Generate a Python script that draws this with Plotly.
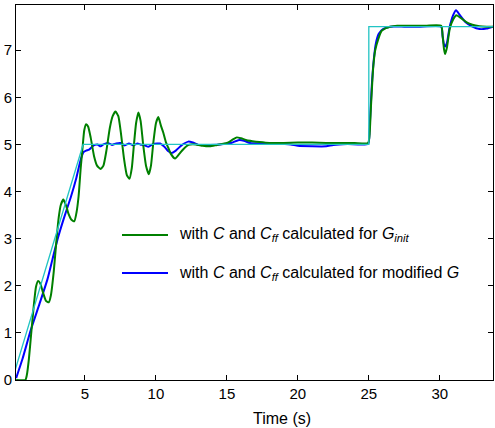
import plotly.graph_objects as go

# reference signal
ref_t = [0.0, 4.87, 25.0, 25.0, 34.0]
ref_y = [0.13, 5.0, 5.0, 7.5, 7.5]

# response with C and Cff calculated for G_init (green)
green_t = [0.15, 0.8, 0.9, 1.05, 1.2, 1.4, 1.55, 1.7, 1.85, 2.05, 2.25, 2.45, 2.6, 2.8, 3.0, 3.15, 3.3, 3.48,
           3.65, 3.85, 4.05, 4.25, 4.4, 4.55, 4.7, 4.82, 4.95, 5.08, 5.22, 5.4, 5.64, 5.85, 6.1, 6.3, 6.5, 6.75,
           6.95, 7.15, 7.35, 7.55, 7.75, 7.95, 8.13, 8.3, 8.45, 8.6, 8.76, 8.92, 9.1, 9.3, 9.5, 9.65, 9.82, 10.0,
           10.17, 10.35, 10.52, 10.7, 10.87, 11.05, 11.35, 11.65, 11.93, 12.3, 12.8, 13.3, 13.8, 14.3, 15.0, 15.4,
           15.7, 16.0, 16.4, 16.8, 17.3, 18.0, 19.0, 20.0, 21.0, 22.0, 23.0, 24.0, 24.95, 25.05, 25.15, 25.3,
           25.45, 25.66, 25.9, 26.2, 26.5, 27.0, 28.0, 29.0, 30.1, 30.2, 30.3, 30.38, 30.5, 30.7, 30.95, 31.18,
           31.5, 31.9, 32.3, 32.8, 33.3, 33.75]
green_y = [0.0, 0.0, 0.1, 0.45, 0.95, 1.6, 1.98, 2.1, 2.05, 1.85, 1.68, 1.65, 1.8, 2.3, 3.0, 3.45, 3.72, 3.83,
           3.72, 3.52, 3.4, 3.37, 3.55, 3.9, 4.5, 4.9, 5.3, 5.43, 5.38, 5.15, 4.75, 4.55, 4.48, 4.55, 4.85, 5.35,
           5.6, 5.7, 5.6, 5.2, 4.7, 4.35, 4.27, 4.5, 5.0, 5.45, 5.68, 5.5, 5.0, 4.55, 4.37, 4.55, 5.05, 5.45,
           5.58, 5.4, 5.25, 5.05, 4.93, 4.8, 4.7, 4.8, 4.9, 4.99, 5.0, 4.97, 4.96, 4.99, 5.03, 5.1,
           5.15, 5.13, 5.09, 5.07, 5.05, 5.03, 5.03, 5.04, 5.04, 5.03, 5.03, 5.03, 5.03, 5.2, 5.8, 6.6,
           7.0, 7.23, 7.41, 7.47, 7.5, 7.52, 7.52, 7.52, 7.52, 7.3, 7.02, 6.92, 7.05, 7.45, 7.66, 7.74,
           7.68, 7.59, 7.54, 7.51, 7.5, 7.5]

# response with C and Cff calculated for modified G (blue)
blue_t = [0.15, 0.6, 1.18, 1.8, 2.35, 2.7, 3.06, 3.5, 4.0, 4.4, 4.7, 4.9, 5.08, 5.29, 5.5, 5.7, 5.88, 6.1, 6.3,
          6.6, 6.9, 7.2, 7.5, 7.8, 8.1, 8.4, 8.7, 8.9, 9.2, 9.47, 9.8, 10.1, 10.3, 10.6, 10.85, 11.1, 11.4, 11.8,
          12.28, 12.6, 13.0, 13.5, 14.5, 15.3, 15.8, 16.2, 16.63, 17.5, 18.5, 19.5, 20.0, 21.0, 22.0, 22.5, 23.5,
          24.95, 25.05, 25.2, 25.35, 25.5, 25.7, 26.0, 26.5, 27.5, 28.5, 30.1, 30.2, 30.3, 30.38, 30.5, 30.7,
          30.95, 31.15, 31.4, 31.8, 32.3, 32.8, 33.3, 33.75]
blue_y = [0.04, 0.45, 1.06, 1.62, 2.13, 2.55, 2.98, 3.42, 3.88, 4.3, 4.68, 4.84, 4.87, 4.89, 4.95, 4.99, 5.0, 4.96,
          5.0, 5.03, 4.99, 5.02, 5.03, 4.98, 5.02, 4.98, 5.02, 5.0, 4.98, 4.95, 5.01, 5.02, 5.02, 4.95, 4.86, 4.82,
          4.87, 4.98, 5.06, 5.04, 4.99, 4.99, 5.0, 5.03, 5.09, 5.08, 5.03, 5.02, 5.02, 5.0, 4.97, 4.96, 4.96, 4.99,
          5.01, 5.01, 5.3, 6.2, 6.8, 7.15, 7.35, 7.45, 7.5, 7.5, 7.5, 7.5, 7.3, 7.12, 7.08, 7.15, 7.5, 7.75,
          7.85, 7.75, 7.6, 7.5, 7.45, 7.46, 7.5]

x_ticks = [5, 10, 15, 20, 25, 30]
y_ticks = [0, 1, 2, 3, 4, 5, 6, 7]

GREEN = "#008000"
BLUE = "#0000ff"
CYAN = "#22c4c4"
FONT = "Liberation Sans"

legend_labels = [
    "with <i>C</i> and <i>C</i><sub><i>ff</i></sub> calculated for <i>G</i><sub><i>init</i></sub>",
    "with <i>C</i> and <i>C</i><sub><i>ff</i></sub> calculated for modified <i>G</i>",
]

fig = go.Figure()
fig.add_trace(go.Scatter(x=blue_t, y=blue_y, mode="lines",
                         line=dict(color=BLUE, width=2, shape="spline", smoothing=0.5), showlegend=False))
fig.add_trace(go.Scatter(x=green_t, y=green_y, mode="lines",
                         line=dict(color=GREEN, width=2, shape="spline", smoothing=0.5), showlegend=False))
fig.add_trace(go.Scatter(x=ref_t, y=ref_y, mode="lines", line=dict(color=CYAN, width=1.3), showlegend=False))

# plot area in pixels: x 16..493, y 5..380
W, H = 477.0, 375.0
def px(x):
    return (x - 16) / W
def py(y):
    return (380 - y) / H

for label, color, yy in [(legend_labels[0], GREEN, 235), (legend_labels[1], BLUE, 273)]:
    fig.add_shape(type="line", xref="paper", yref="paper", x0=px(122), x1=px(168), y0=py(yy), y1=py(yy),
                  line=dict(color=color, width=2))
    fig.add_annotation(xref="paper", yref="paper", x=px(177), y=py(yy), text=label, showarrow=False,
                       xanchor="left", yanchor="middle", font=dict(size=16, color="black", family=FONT))

fig.add_annotation(xref="paper", yref="paper", x=px(282), y=py(418), text="Time (s)", showarrow=False,
                   xanchor="center", yanchor="middle", font=dict(size=16, color="black", family=FONT))

axis_common = dict(showgrid=False, zeroline=False, showline=True, linecolor="black", linewidth=1,
                   mirror="ticks", ticks="inside", ticklen=5, tickcolor="black", tickwidth=1,
                   tickfont=dict(size=15, color="black", family=FONT))

fig.update_xaxes(range=[0.14, 33.75], tickvals=x_ticks, **axis_common)
fig.update_yaxes(range=[0, 7.96], tickvals=y_ticks, **axis_common)

fig.update_layout(width=495, height=428, margin=dict(l=16, r=2, t=5, b=48),
                  plot_bgcolor="white", paper_bgcolor="white", showlegend=False)

fig.write_html("out.html")
